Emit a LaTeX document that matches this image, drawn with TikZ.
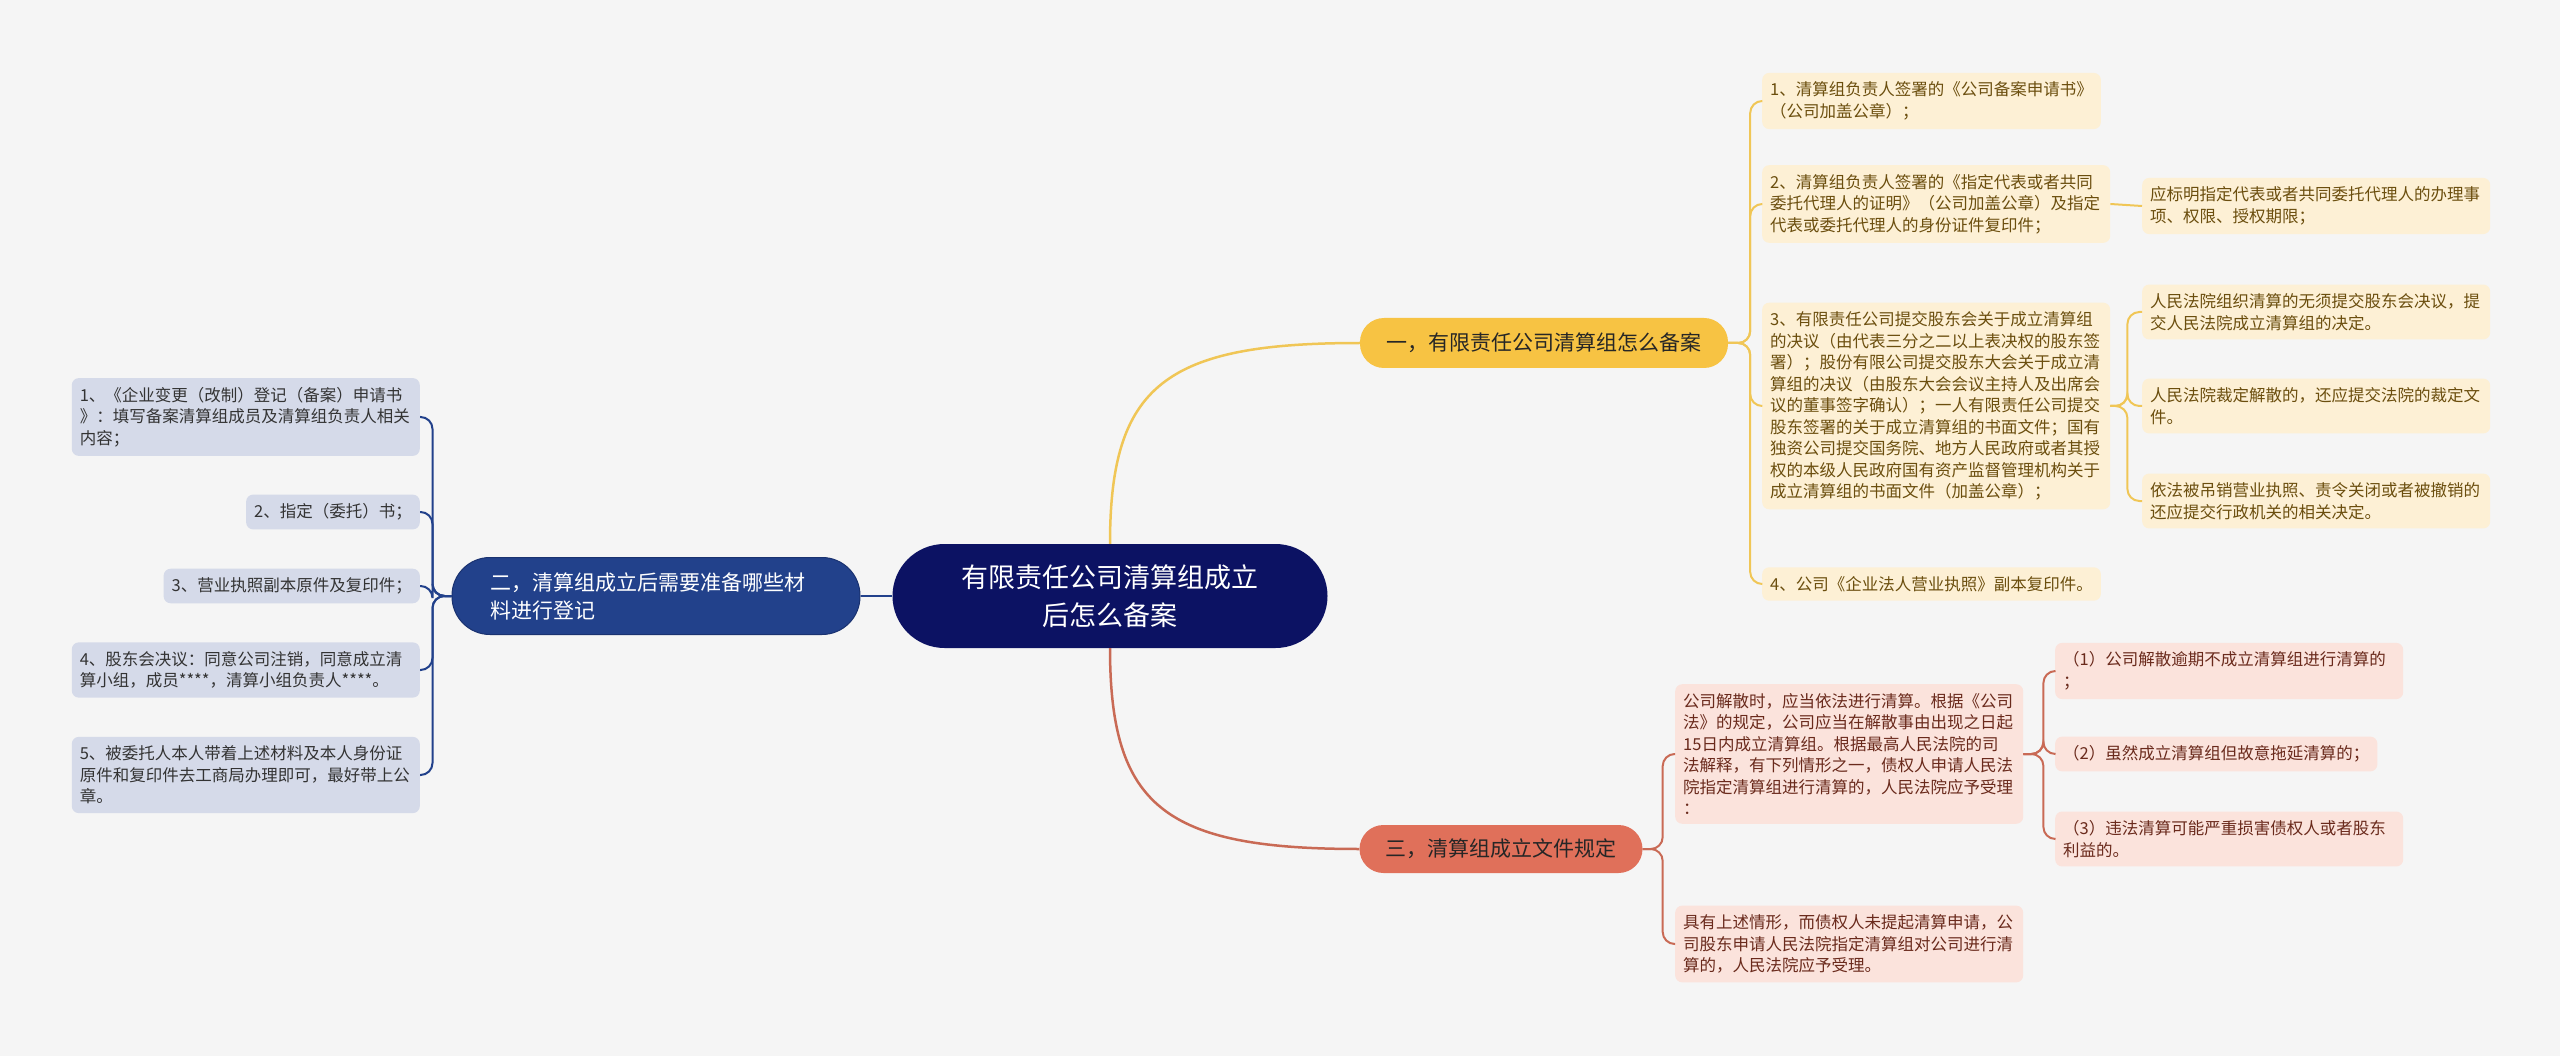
\documentclass[tikz,border=0pt]{standalone}
\usepackage{fontspec}
\setmainfont{Noto Sans CJK SC}
\usetikzlibrary{positioning}

\definecolor{bgcol}{HTML}{F5F5F5}
\definecolor{rootcol}{HTML}{0C1263}
\definecolor{bluecol}{HTML}{22418B}
\definecolor{bluedark}{HTML}{1A3270}
\definecolor{blueleaf}{HTML}{D5DAE9}
\definecolor{yelcol}{HTML}{F7C343}
\definecolor{yelline}{HTML}{F0C656}
\definecolor{yelleaf}{HTML}{FDF0D5}
\definecolor{yeltext}{HTML}{6B4E0E}
\definecolor{redcol}{HTML}{E0705A}
\definecolor{redline}{HTML}{C96A55}
\definecolor{redleaf}{HTML}{FBE3DC}
\definecolor{redtext}{HTML}{6A2A1C}

\begin{document}
\begin{tikzpicture}[
x=1pt, y=-1pt,
root/.style={fill=rootcol, text=white, rounded corners=52pt, align=center,
  minimum width=435pt, minimum height=104pt, font=\fontsize{27}{38}\selectfont},
topic/.style={rounded corners=24pt, minimum height=50pt, align=center,
  font=\fontsize{21}{28}\selectfont},
leaf/.style={rounded corners=7pt, align=left, inner xsep=8pt, inner ysep=9pt,
  font=\fontsize{16.5}{21.5}\selectfont},
wide/.style={text width=332pt},
bleaf/.style={leaf, fill=blueleaf, text=black!80},
yleaf/.style={leaf, fill=yelleaf, text=yeltext},
rleaf/.style={leaf, fill=redleaf, text=redtext},
link/.style={line width=2.5pt, rounded corners=14pt},
sublink/.style={line width=2pt, rounded corners=12pt}
]
\fill[bgcol] (0,0) rectangle (2560,1056);
\useasboundingbox (0,0) rectangle (2560,1056);

% centre and main topics
\node[root] (root) at (1110,596) {有限责任公司清算组成立\\后怎么备案};
\node[topic, fill=bluecol, draw=bluedark, line width=1pt, text=white, rounded corners=38pt,
  minimum height=77pt, align=left, text width=332pt, inner xsep=38pt] (mat) at (656,596)
  {二，清算组成立后需要准备哪些材\\料进行登记};
\node[topic, fill=yelcol, text=black!85, minimum width=368pt] (file) at (1544,343)
  {一，有限责任公司清算组怎么备案};
\node[topic, fill=redcol, text=black!85, minimum width=283pt, minimum height=48pt] (rule) at (1501,849)
  {三，清算组成立文件规定};

% left: materials
\node[bleaf, wide, anchor=east] (mat1) at (420,417) {1、《企业变更（改制）登记（备案）申请书\\》：填写备案清算组成员及清算组负责人相关\\内容；};
\node[bleaf, anchor=east] (mat2) at (420,512) {2、指定（委托）书；};
\node[bleaf, anchor=east] (mat3) at (420,586) {3、营业执照副本原件及复印件；};
\node[bleaf, wide, anchor=east] (mat4) at (420,670) {4、股东会决议：同意公司注销，同意成立清\\算小组，成员****，清算小组负责人****。};
\node[bleaf, wide, anchor=east] (mat5) at (420,775) {5、被委托人本人带着上述材料及本人身份证\\原件和复印件去工商局办理即可，最好带上公\\章。};

% right top: filing documents
\node[yleaf, anchor=west] (file1) at (1762,101) {1、清算组负责人签署的《公司备案申请书》\\（公司加盖公章）；};
\node[yleaf, wide, anchor=west] (file2) at (1762,204) {2、清算组负责人签署的《指定代表或者共同\\委托代理人的证明》（公司加盖公章）及指定\\代表或委托代理人的身份证件复印件；};
\node[yleaf, wide, anchor=west] (file3) at (1762,406) {3、有限责任公司提交股东会关于成立清算组\\的决议（由代表三分之二以上表决权的股东签\\署）；股份有限公司提交股东大会关于成立清\\算组的决议（由股东大会会议主持人及出席会\\议的董事签字确认）；一人有限责任公司提交\\股东签署的关于成立清算组的书面文件；国有\\独资公司提交国务院、地方人民政府或者其授\\权的本级人民政府国有资产监督管理机构关于\\成立清算组的书面文件（加盖公章）；};
\node[yleaf, anchor=west] (file4) at (1762,584) {4、公司《企业法人营业执照》副本复印件。};
\node[yleaf, wide, anchor=west] (file2n) at (2142,206) {应标明指定代表或者共同委托代理人的办理事\\项、权限、授权期限；};
\node[yleaf, wide, anchor=west] (file3a) at (2142,312) {人民法院组织清算的无须提交股东会决议，提\\交人民法院成立清算组的决定。};
\node[yleaf, wide, anchor=west] (file3b) at (2142,406) {人民法院裁定解散的，还应提交法院的裁定文\\件。};
\node[yleaf, wide, anchor=west] (file3c) at (2142,501) {依法被吊销营业执照、责令关闭或者被撤销的\\还应提交行政机关的相关决定。};

% right bottom: rules
\node[rleaf, wide, anchor=west] (rule1) at (1675,754) {公司解散时，应当依法进行清算。根据《公司\\法》的规定，公司应当在解散事由出现之日起\\15日内成立清算组。根据最高人民法院的司\\法解释，有下列情形之一，债权人申请人民法\\院指定清算组进行清算的，人民法院应予受理\\：};
\node[rleaf, wide, anchor=west] (rule2) at (1675,944) {具有上述情形，而债权人未提起清算申请，公\\司股东申请人民法院指定清算组对公司进行清\\算的，人民法院应予受理。};
\node[rleaf, wide, anchor=west] (rule1a) at (2055,671) {（1）公司解散逾期不成立清算组进行清算的\\；};
\node[rleaf, anchor=west] (rule1b) at (2055,754) {（2）虽然成立清算组但故意拖延清算的；};
\node[rleaf, wide, anchor=west] (rule1c) at (2055,839) {（3）违法清算可能严重损害债权人或者股东\\利益的。};

% connectors
\draw[link, bluecol] (root.west) -- (mat.east);
\draw[link, yelline] (root.north) .. controls (1110,385) and (1165,343) .. (file.west);
\draw[link, redline] (root.south) .. controls (1110,807) and (1165,849) .. (rule.west);
\foreach \n in {mat1,mat2,mat3,mat4,mat5}
  \draw[sublink, bluecol] (mat.west) -- ++(-19,0) |- (\n.east);
\foreach \n in {file1,file2,file3,file4}
  \draw[sublink, yelline] (file.east) -- ++(22,0) |- (\n.west);
\draw[sublink, yelline] (file2.east) -- (file2n.west);
\foreach \n in {file3a,file3b,file3c}
  \draw[sublink, yelline] (file3.east) -- ++(17,0) |- (\n.west);
\foreach \n in {rule1,rule2}
  \draw[sublink, redline] (rule.east) -- ++(20,0) |- (\n.west);
\foreach \n in {rule1a,rule1b,rule1c}
  \draw[sublink, redline] (rule1.east) -- ++(20,0) |- (\n.west);
\end{tikzpicture}
\end{document}
